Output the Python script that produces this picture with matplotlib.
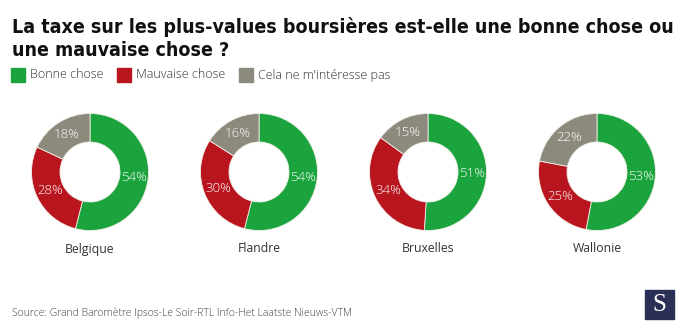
import matplotlib
matplotlib.use('Agg')
import matplotlib.pyplot as plt
from matplotlib.patches import Rectangle

W, H = 684, 329

regions = ['Belgique', 'Flandre', 'Bruxelles', 'Wallonie']
bonne = [54, 54, 51, 53]
mauvaise = [28, 30, 34, 25]
indiff = [18, 16, 15, 22]
answers = ['Bonne chose', 'Mauvaise chose', "Cela ne m'intéresse pas"]
colors = ['#1ba33e', '#b8151f', '#8c897d']

centers_x = [90, 259, 428, 597]
center_y = 172
r_out, r_in = 58.5, 30

fig = plt.figure(figsize=(W / 100, H / 100), dpi=100)
ax = fig.add_axes([0, 0, 1, 1])

body = ['Open Sans', 'DejaVu Sans']

for i, name in enumerate(regions):
    vals = [bonne[i], mauvaise[i], indiff[i]]
    cx, cy = centers_x[i], H - center_y
    ax.pie(vals, colors=colors, center=(cx, cy), radius=r_out,
           startangle=90, counterclock=False,
           wedgeprops=dict(width=r_out - r_in, edgecolor='#f2efe6', linewidth=0.6),
           autopct=lambda p: f'{round(p)}%', pctdistance=(r_out + r_in) / 2 / r_out,
           textprops=dict(color='white', fontsize=9.5, family=body, weight='light'))
    ax.text(cx, H - 249, name, ha='center', va='center', fontsize=8.8,
            family=body, color='#333333')

ax.set_xlim(0, W)
ax.set_ylim(0, H)
ax.set_aspect('equal')
ax.axis('off')

# title, squeezed to the line width
renderer = fig.canvas.get_renderer()
title_font = dict(weight='bold', family='DejaVu Sans', stretch='condensed',
                  va='baseline', ha='left', color='#111111')
t1 = ax.text(12, H - 33, 'La taxe sur les plus-values boursières est-elle une bonne chose ou',
             fontsize=15, **title_font)
w = t1.get_window_extent(renderer).width
size = 15 * 662 / w
t1.set_fontsize(size)
ax.text(12, H - 56, 'une mauvaise chose ?', fontsize=size, **title_font)

# legend
leg_x = [11, 117, 239]
for x, lab, c in zip(leg_x, answers, colors):
    ax.add_patch(Rectangle((x, H - 82), 14, 14, color=c))
    ax.text(x + 19, H - 75, lab, fontsize=9, family=body, weight='light',
            va='center', ha='left', color='#333333')

ax.text(12, H - 313, 'Source: Grand Baromètre Ipsos-Le Soir-RTL Info-Het Laatste Nieuws-VTM',
        fontsize=7.5, family=body, weight='light', va='center', ha='left', color='#444444')

# logo
ax.add_patch(Rectangle((645, H - 319), 29, 29, color='#2b2f55'))
ax.text(659.5, H - 305, 'S', fontsize=18, family=['Liberation Serif', 'DejaVu Serif'],
        color='white', ha='center', va='center')

fig.savefig('out.png', dpi=100)
